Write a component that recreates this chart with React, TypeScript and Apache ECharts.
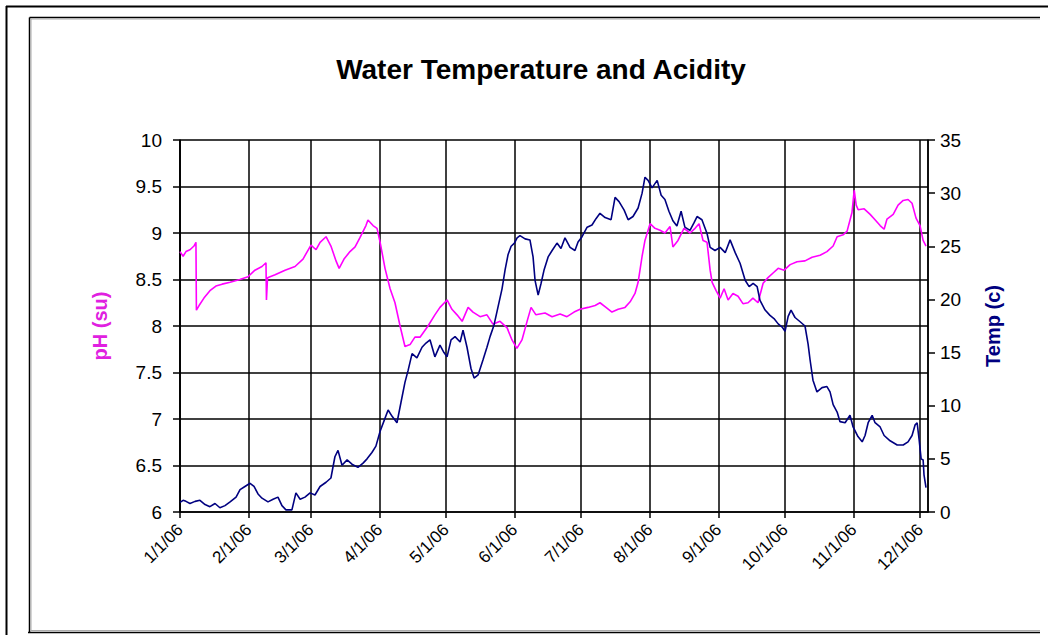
import React, { useEffect, useRef } from "react";
import * as echarts from "echarts";

const TITLE = "Water Temperature and Acidity";
const PH_NAME = "pH (su)";
const TEMP_NAME = "Temp (c)";
const YEAR = 2006;

// day-of-year offsets (0 = 1/1/06) and pH readings
const phDays = [0, 1.4, 2.7, 4.5, 6.3, 7.2, 7.4, 8.6, 10.8, 13.5, 16.2, 19, 22.6, 27, 30.7, 33.8, 37, 38.8, 39, 39.5, 42.9, 47.4, 51.9, 55.5, 59.1, 61.4, 63.2, 65.9, 68.1, 70.4, 71.8, 74, 76.7, 79, 81.2, 83.9, 84.8, 87.1, 88.9, 90.3, 92.5, 94.8, 97, 99.3, 101.5, 103.8, 106, 108.3, 111.9, 115, 117.3, 120.5, 122.7, 125, 127.3, 130, 132.2, 135.4, 138.5, 141.2, 144.4, 147.6, 149.8, 152, 154.3, 156.6, 158.4, 160.6, 164.7, 167.9, 171.5, 174.6, 177.8, 180.5, 184.1, 187.3, 189.5, 192.2, 194.9, 197.7, 200.8, 203.1, 205.3, 206.7, 208.5, 209.8, 212.1, 214.3, 216.6, 218.8, 221.1, 222.4, 224.7, 227.4, 230.1, 232.4, 234.2, 236, 237.8, 239.2, 240.1, 241.9, 243.7, 245.5, 247.3, 249.5, 251.8, 254, 256.3, 258.5, 260.8, 263.1, 265.3, 267.6, 269.9, 272.6, 275.3, 278.4, 282, 285.2, 288.8, 291.9, 294.7, 296.5, 299.2, 301, 303.2, 304.2, 305.1, 306, 308.7, 311.4, 313.7, 315.9, 317.7, 319, 321.8, 324, 326.3, 328.5, 330.3, 332.1, 333.9, 335.3, 336.6];
const phValues = [8.8, 8.75, 8.8, 8.82, 8.86, 8.9, 8.17, 8.22, 8.3, 8.38, 8.43, 8.45, 8.47, 8.5, 8.53, 8.6, 8.64, 8.68, 8.28, 8.52, 8.55, 8.6, 8.64, 8.72, 8.87, 8.82, 8.9, 8.96, 8.86, 8.7, 8.62, 8.72, 8.8, 8.85, 8.95, 9.08, 9.14, 9.08, 9.05, 8.9, 8.62, 8.4, 8.25, 8.0, 7.78, 7.8, 7.88, 7.88, 8.0, 8.12, 8.2, 8.28, 8.18, 8.12, 8.05, 8.2, 8.15, 8.1, 8.12, 8.02, 8.05, 7.98, 7.85, 7.76, 7.85, 8.05, 8.2, 8.12, 8.14, 8.1, 8.13, 8.1, 8.15, 8.18, 8.2, 8.22, 8.25, 8.2, 8.15, 8.18, 8.2, 8.26, 8.35, 8.47, 8.75, 8.92, 9.1, 9.05, 9.03, 9.0, 9.07, 8.85, 8.92, 9.05, 9.0, 9.05, 9.1, 8.92, 8.9, 8.6, 8.47, 8.38, 8.3, 8.4, 8.28, 8.35, 8.32, 8.24, 8.25, 8.3, 8.25, 8.46, 8.52, 8.57, 8.62, 8.6, 8.66, 8.69, 8.7, 8.74, 8.76, 8.8, 8.86, 8.96, 8.98, 9.02, 9.22, 9.46, 9.3, 9.25, 9.26, 9.2, 9.14, 9.08, 9.04, 9.15, 9.2, 9.3, 9.35, 9.36, 9.32, 9.16, 9.08, 8.92, 8.86];

// day-of-year offsets and water temperature readings (c)
const tempDays = [0, 1.4, 2.7, 4.5, 6.8, 9, 11.3, 13.5, 15.8, 18, 20.3, 22.6, 25.3, 27.1, 29.3, 31.6, 33.4, 35.2, 37, 39.7, 42, 44.2, 46, 47.8, 50.5, 52.3, 54.2, 56.4, 58.7, 60.9, 63.2, 65.9, 68.1, 69.9, 71.3, 73.1, 75.4, 77.6, 80.3, 82.6, 84.4, 86.6, 88.4, 90.3, 92.1, 93.9, 95.7, 97.9, 99.7, 101.5, 102.9, 104.7, 106.9, 109.2, 111, 112.8, 115, 117.3, 119.1, 120.5, 122.3, 124.1, 126.4, 127.7, 129.5, 131.3, 132.7, 134.5, 136.7, 138.5, 139.9, 141.7, 143.4, 145.3, 146.7, 148, 149.4, 150.9, 152.1, 153.4, 155.7, 157.9, 159.3, 160.2, 161.6, 162.9, 164.3, 166.1, 167.9, 170.1, 171.9, 173.7, 176, 178.2, 179.6, 181.4, 183.7, 185.9, 187.7, 189.5, 191.8, 194.5, 196.3, 198.1, 200.4, 202.2, 204.4, 206.7, 208.5, 209.8, 211.2, 213, 215.3, 217.1, 218.8, 220.6, 222.4, 224.2, 226.1, 227.8, 230.1, 231.9, 233.3, 235.5, 237.8, 239.2, 241.4, 243.7, 246, 248.2, 250.5, 252.7, 255, 256.8, 258.6, 260.4, 261.7, 264, 266.2, 268, 269.9, 271.7, 273, 274.4, 275.7, 277.5, 279.8, 282, 283.4, 284.3, 285.6, 287.4, 289.7, 291.9, 293.3, 294.7, 296.5, 297.8, 300.1, 302.3, 303.7, 305.9, 307.8, 309.1, 310.5, 312.3, 313.6, 315.9, 317.7, 320.4, 323.6, 326.3, 328.5, 330.3, 331.7, 332.6, 333.5, 334.4, 335.3, 335.7, 336.6];
const tempValues = [0.9, 1.1, 1.0, 0.8, 1.0, 1.1, 0.7, 0.5, 0.8, 0.4, 0.6, 0.95, 1.4, 2.1, 2.4, 2.7, 2.4, 1.7, 1.3, 0.95, 1.2, 1.4, 0.6, 0.2, 0.2, 1.8, 1.2, 1.4, 1.8, 1.6, 2.4, 2.8, 3.2, 5.2, 5.8, 4.4, 4.9, 4.5, 4.2, 4.6, 5.0, 5.6, 6.2, 7.6, 8.6, 9.6, 9.0, 8.4, 10.3, 12.2, 13.3, 14.9, 14.5, 15.5, 15.9, 16.2, 14.6, 15.7, 15.0, 14.6, 16.2, 16.5, 16.0, 17.1, 15.5, 13.5, 12.6, 12.9, 14.3, 15.5, 16.5, 17.6, 19.2, 21.0, 22.8, 24.2, 25.0, 25.3, 25.8, 26.0, 25.7, 25.6, 24.0, 21.8, 20.4, 21.5, 22.8, 24.0, 24.6, 25.3, 24.8, 25.8, 24.9, 24.6, 25.4, 25.9, 26.8, 27.0, 27.6, 28.1, 27.7, 27.5, 29.6, 29.2, 28.4, 27.5, 27.8, 28.6, 30.0, 31.5, 31.2, 30.5, 31.2, 29.8, 29.4, 28.3, 27.4, 26.9, 28.3, 26.8, 26.5, 27.2, 27.8, 27.5, 26.2, 24.9, 24.6, 24.9, 24.4, 25.6, 24.4, 23.4, 21.8, 21.2, 21.5, 21.2, 19.9, 19.0, 18.5, 18.2, 17.7, 17.4, 17.0, 18.4, 19.0, 18.3, 17.9, 17.5, 15.8, 14.3, 12.4, 11.3, 11.7, 11.8, 11.3, 10.1, 9.4, 8.5, 8.4, 9.1, 8.0, 7.1, 6.6, 7.2, 8.4, 9.1, 8.4, 8.0, 7.2, 6.7, 6.3, 6.3, 6.6, 7.2, 8.2, 8.4, 6.8, 5.0, 4.9, 3.5, 2.3];

const phTicks = { min: 6, max: 10, interval: 0.5 };
const tempTicks = { min: 0, max: 35, interval: 5 };
const axisEndDay = 337.5;

const DAY = 86400000;
const BASE = new Date(YEAR, 0, 1).getTime();
const FONT = "'Liberation Sans', Arial, sans-serif";

export default function App() {
  const ref = useRef<HTMLDivElement>(null);
  useEffect(() => {
    document.body.style.margin = "0";
    const chart = echarts.init(ref.current!, null, { renderer: "svg" });
    const phData = phDays.map((d, i) => [BASE + d * DAY, phValues[i]]);
    const tempData = tempDays.map((d, i) => [BASE + d * DAY, tempValues[i]]);
    const black = { color: "#000", width: 1.5 };
    chart.setOption({
      animation: false,
      backgroundColor: "#fff",
      title: {
        text: TITLE,
        left: 536,
        top: 50,
        textAlign: "center",
        textStyle: { fontFamily: FONT, fontSize: 28, fontWeight: "bold", color: "#000" },
      },
      grid: { left: 180, right: 120, top: 140, bottom: 123, show: false },
      xAxis: {
        type: "time",
        min: BASE,
        max: BASE + axisEndDay * DAY,
        splitNumber: 12,
        minInterval: 28 * DAY,
        maxInterval: 31 * DAY,
        axisLine: { show: true, lineStyle: black },
        axisTick: { show: true, length: 6, lineStyle: black },
        splitLine: { show: true, lineStyle: black },
        axisLabel: {
          rotate: 45,
          margin: 15,
          fontSize: 17,
          fontFamily: FONT,
          color: "#000",
          showMaxLabel: false,
          formatter: (v: number) => {
            const d = new Date(v);
            return `${d.getMonth() + 1}/${d.getDate()}/06`;
          },
        },
      },
      yAxis: [
        {
          type: "value",
          position: "left",
          ...phTicks,
          name: PH_NAME,
          nameLocation: "middle",
          nameGap: 70,
          nameTextStyle: { color: "#E020E0", fontSize: 20, fontWeight: "bold", fontFamily: FONT },
          axisLine: { show: true, lineStyle: black },
          axisTick: { show: true, length: 7, lineStyle: black },
          splitLine: { show: true, lineStyle: black },
          axisLabel: { fontSize: 19, fontFamily: FONT, color: "#000", margin: 18 },
        },
        {
          type: "value",
          position: "right",
          ...tempTicks,
          name: TEMP_NAME,
          nameLocation: "middle",
          nameGap: 55,
          nameRotate: 90,
          nameTextStyle: { color: "#000080", fontSize: 20, fontWeight: "bold", fontFamily: FONT },
          axisLine: { show: true, lineStyle: black },
          axisTick: { show: true, length: 7, lineStyle: black },
          splitLine: { show: false },
          axisLabel: { fontSize: 19, fontFamily: FONT, color: "#000", margin: 12 },
        },
      ],
      series: [
        {
          name: PH_NAME,
          type: "line",
          yAxisIndex: 0,
          data: phData,
          showSymbol: false,
          lineStyle: { color: "#FF00FF", width: 1.6 },
          itemStyle: { color: "#FF00FF" },
        },
        {
          name: TEMP_NAME,
          type: "line",
          yAxisIndex: 1,
          data: tempData,
          showSymbol: false,
          lineStyle: { color: "#000080", width: 1.6 },
          itemStyle: { color: "#000080" },
        },
      ],
      graphic: [
        { type: "line", shape: { x1: 6, y1: 6.5, x2: 1048, y2: 6.5 }, style: { stroke: "#000", lineWidth: 2 } },
        { type: "line", shape: { x1: 6.5, y1: 6, x2: 6.5, y2: 635 }, style: { stroke: "#000", lineWidth: 2 } },
        { type: "line", shape: { x1: 29.5, y1: 17.5, x2: 1040, y2: 17.5 }, style: { stroke: "#000", lineWidth: 1.5 } },
        { type: "line", shape: { x1: 31, y1: 19, x2: 1040, y2: 19 }, style: { stroke: "#aaa", lineWidth: 1 } },
        { type: "line", shape: { x1: 29.5, y1: 17.5, x2: 29.5, y2: 633 }, style: { stroke: "#000", lineWidth: 1.5 } },
        { type: "line", shape: { x1: 31, y1: 19, x2: 31, y2: 631 }, style: { stroke: "#aaa", lineWidth: 1 } },
        { type: "line", shape: { x1: 28, y1: 632.5, x2: 1040, y2: 632.5 }, style: { stroke: "#000", lineWidth: 1.5 } },
        { type: "line", shape: { x1: 31, y1: 630.5, x2: 1040, y2: 630.5 }, style: { stroke: "#aaa", lineWidth: 1 } },
      ],
    });
    return () => chart.dispose();
  }, []);
  return <div ref={ref} style={{ width: 1048, height: 635 }} />;
}
